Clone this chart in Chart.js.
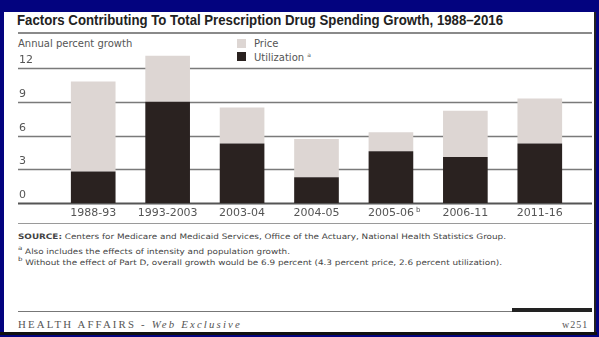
<!DOCTYPE html>
<html>
<head>
<meta charset="utf-8">
<script src="https://cdn.jsdelivr.net/npm/chart.js@4/dist/chart.umd.min.js"></script>
<style>
  html, body { margin:0; padding:0; }
  body { width:599px; height:337px; background:#03037f; position:relative; overflow:hidden; }
  #panel { position:absolute; left:4px; top:12px; width:591px; height:321px; background:#fff; }
  #botline { position:absolute; left:0px; top:332px; width:597px; height:3px; background:#111; }
  #rightline { position:absolute; left:594px; top:12px; width:2px; height:322px; background:#222; }
  canvas#c { position:absolute; left:0; top:0; }
  .t { position:absolute; white-space:nowrap; transform-origin:0 50%; line-height:1; }
  #title { left:17px; top:12px; font:bold 14px "Liberation Sans", Arial, sans-serif; color:#222; }
  #rule1 { position:absolute; left:18px; top:32px; width:574px; height:2px; background:#8a8a8a; }
  #ylab { left:18px; top:38px; font:10px "DejaVu Sans", sans-serif; color:#555; }
  .leg { position:absolute; width:9px; height:9px; }
  #legp { left:237px; top:39px; background:#ddd6d3; }
  #legu { left:237px; top:52px; background:#2a2220; }
  #legpt { left:254px; top:38px; font:10px "DejaVu Sans", sans-serif; color:#555; }
  #legut { left:254px; top:51px; font:10px "DejaVu Sans", sans-serif; color:#555; }
  sup { font-size:6px; vertical-align:4px; }
  #rule2 { position:absolute; left:18px; top:223px; width:574px; height:1px; background:#9a9a9a; }
  .fn { font:7.5px "DejaVu Sans", sans-serif; color:#444; left:18px; }
  #src { top:232px; }
  #fa { top:244px; }
  #fb { top:255px; }
  #rule3 { position:absolute; left:18px; top:311px; width:574px; height:1px; background:#777; }
  #rule3b { position:absolute; left:512px; top:308px; width:80px; height:4px; background:#222; }
  #foot { left:18px; top:319px; font:10px "Liberation Serif", serif; color:#555; letter-spacing:2px; }
  #pg { left:562px; top:319px; font:10px "Liberation Serif", serif; color:#555; letter-spacing:1px; }
</style>
</head>
<body>
<div id="panel"></div>
<div id="rightline"></div>
<div id="botline"></div>
<div id="title" class="t" data-w="486">Factors Contributing To Total Prescription Drug Spending Growth, 1988–2016</div>
<div id="rule1"></div>
<div id="ylab" class="t">Annual percent growth</div>
<div id="legp" class="leg"></div>
<div id="legu" class="leg"></div>
<div id="legpt" class="t">Price</div>
<div id="legut" class="t">Utilization <sup>a</sup></div>
<div id="rule2"></div>
<div id="src" class="t fn" data-w="488"><b>SOURCE:</b> Centers for Medicare and Medicaid Services, Office of the Actuary, National Health Statistics Group.</div>
<div id="fa" class="t fn" data-w="272"><sup>a</sup> Also includes the effects of intensity and population growth.</div>
<div id="fb" class="t fn" data-w="484"><sup>b</sup> Without the effect of Part D, overall growth would be 6.9 percent (4.3 percent price, 2.6 percent utilization).</div>
<div id="rule3"></div>
<div id="rule3b"></div>
<div id="foot" class="t" data-w="224">HEALTH AFFAIRS - <i>Web Exclusive</i></div>
<div id="pg" class="t">w251</div>
<canvas id="c" width="599" height="337"></canvas>
<script>
// ---- data ----
const categories = ["1988-93", "1993-2003", "2003-04", "2004-05", "2005-06", "2006-11", "2011-16"];
const categorySuperscripts = ["", "", "", "", "b", "", ""];
const utilization = [2.8, 9.0, 5.3, 2.3, 4.6, 4.1, 5.3];
const priceTotal = [10.8, 13.1, 8.5, 5.7, 6.3, 8.2, 9.3];
const price = priceTotal.map((t, i) => +(t - utilization[i]).toFixed(1));
const yTicks = [0, 3, 6, 9, 12];

// fit text widths
document.querySelectorAll('[data-w]').forEach(el => {
  const w = el.getBoundingClientRect().width;
  const target = +el.dataset.w;
  el.style.transform = 'scaleX(' + (target / w) + ')';
});

const gridPlugin = {
  id: 'customAxes',
  beforeDatasetsDraw(chart) {
    const ctx = chart.ctx, y = chart.scales.y;
    ctx.save();
    yTicks.forEach(v => {
      const py = Math.round(y.getPixelForValue(v)) + 0.5;
      ctx.strokeStyle = v === 0 ? '#555' : '#7a7a7a';
      ctx.lineWidth = v === 0 ? 1.8 : 1.3;
      ctx.beginPath(); ctx.moveTo(18, py); ctx.lineTo(592, py); ctx.stroke();
      ctx.fillStyle = '#555';
      ctx.font = '11px "DejaVu Sans", sans-serif';
      ctx.textBaseline = 'middle';
      ctx.textAlign = 'left';
      ctx.fillText(String(v), 19, py - 8);
    });
    ctx.restore();
  },
  afterDraw(chart) {
    const ctx = chart.ctx, x = chart.scales.x, y = chart.scales.y;
    ctx.save();
    ctx.fillStyle = '#555';
    ctx.textBaseline = 'middle';
    const py = y.getPixelForValue(0) + 10;
    categories.forEach((c, i) => {
      const px = x.getPixelForValue(i);
      ctx.font = '11px "DejaVu Sans", sans-serif';
      ctx.textAlign = 'center';
      ctx.fillText(c, px, py);
      if (categorySuperscripts[i]) {
        const w = ctx.measureText(c).width;
        ctx.font = '7px "DejaVu Sans", sans-serif';
        ctx.textAlign = 'left';
        ctx.fillText(categorySuperscripts[i], px + w / 2 + 2, py - 3);
      }
    });
    ctx.restore();
  }
};

new Chart(document.getElementById('c'), {
  type: 'bar',
  data: {
    labels: categories,
    datasets: [
      { label: 'Utilization', data: utilization, backgroundColor: '#2a2220', clip: false },
      { label: 'Price', data: price, backgroundColor: '#ddd6d3', clip: false }
    ]
  },
  options: {
    responsive: false,
    animation: false,
    events: [],
    layout: { padding: { left: 56, right: 22, top: 45.5, bottom: 134 } },
    datasets: { bar: { categoryPercentage: 0.6, barPercentage: 1.0 } },
    scales: {
      x: { stacked: true, display: false },
      y: { stacked: true, display: false, min: 0, max: 14 }
    },
    plugins: { legend: { display: false }, tooltip: { enabled: false }, title: { display: false } }
  },
  plugins: [gridPlugin]
});
</script>
</body>
</html>
